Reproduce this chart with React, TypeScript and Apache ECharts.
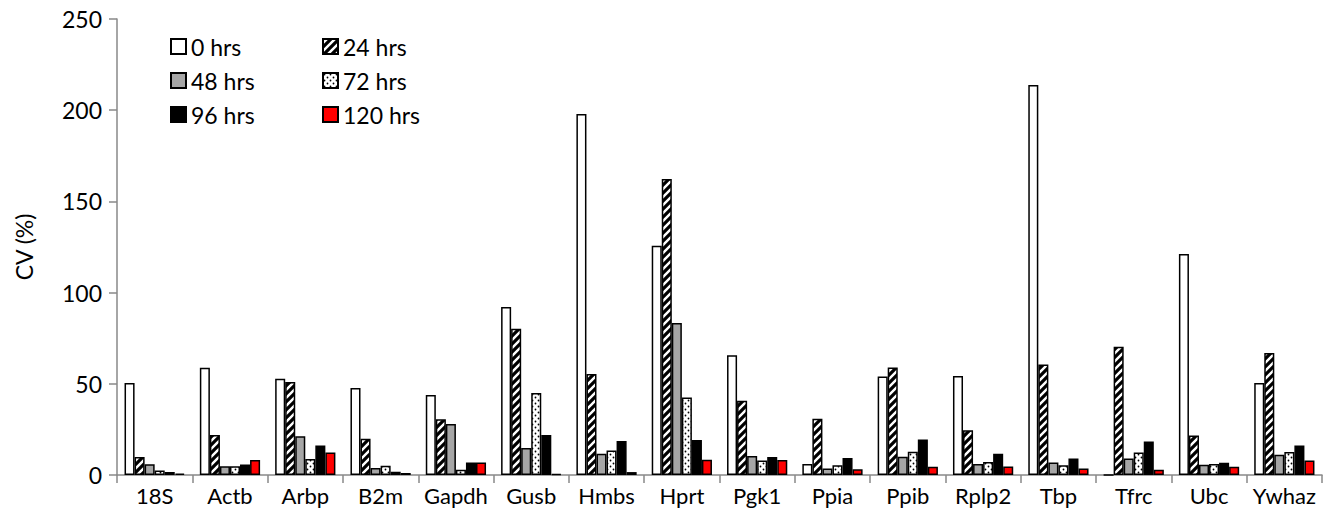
import React, { useEffect, useRef } from "react";
import * as echarts from "echarts";

const categories = ["18S", "Actb", "Arbp", "B2m", "Gapdh", "Gusb", "Hmbs", "Hprt", "Pgk1", "Ppia", "Ppib", "Rplp2", "Tbp", "Tfrc", "Ubc", "Ywhaz"];
const seriesNames = ["0 hrs", "24 hrs", "48 hrs", "72 hrs", "96 hrs", "120 hrs"];
const hrs0 = [50.4, 58.8, 52.8, 47.7, 43.9, 92.1, 197.9, 125.7, 65.6, 6.0, 54.0, 54.3, 213.8, 0, 121.2, 50.4];
const hrs24 = [9.9, 21.9, 51.0, 19.9, 30.5, 80.2, 55.4, 162.3, 40.7, 30.9, 59.0, 24.5, 60.6, 70.3, 21.7, 66.9];
const hrs48 = [5.9, 4.8, 21.2, 3.8, 28.0, 14.8, 11.7, 83.3, 10.4, 3.6, 10.0, 6.0, 6.9, 9.1, 5.6, 11.1];
const hrs72 = [2.4, 4.8, 8.8, 5.1, 2.9, 45.0, 13.5, 42.5, 8.0, 5.3, 12.8, 7.1, 5.3, 12.4, 6.0, 12.6];
const hrs96 = [1.7, 5.8, 16.2, 1.8, 6.9, 21.9, 18.6, 19.2, 9.9, 9.3, 19.4, 11.7, 9.1, 18.3, 6.7, 16.2];
const hrs120 = [0.7, 8.2, 12.4, 1.1, 6.9, 0.5, 1.6, 8.4, 8.2, 3.1, 4.5, 4.7, 3.6, 2.9, 4.5, 8.0];
const yTicks = { min: 0, max: 250, interval: 50 };

function stripeCanvas() {
  const c = document.createElement("canvas");
  c.width = 8;
  c.height = 8;
  const ctx = c.getContext("2d")!;
  ctx.fillStyle = "#fff";
  ctx.fillRect(0, 0, 8, 8);
  ctx.strokeStyle = "#000";
  ctx.lineWidth = 3.2;
  ctx.beginPath();
  for (let k = -8; k <= 16; k += 8) {
    ctx.moveTo(k - 2, 10);
    ctx.lineTo(k + 10, -2);
  }
  ctx.stroke();
  return c;
}

function dotCanvas() {
  const c = document.createElement("canvas");
  c.width = 6;
  c.height = 6;
  const ctx = c.getContext("2d")!;
  ctx.fillStyle = "#fff";
  ctx.fillRect(0, 0, 6, 6);
  ctx.fillStyle = "#000";
  ctx.beginPath();
  ctx.arc(1.5, 1.5, 0.9, 0, Math.PI * 2);
  ctx.arc(4.5, 4.5, 0.9, 0, Math.PI * 2);
  ctx.fill();
  return c;
}

export default function App() {
  const ref = useRef<HTMLDivElement>(null);
  useEffect(() => {
    document.body.style.margin = "0";
    const chart = echarts.init(ref.current!, undefined, { renderer: "svg" });
    const font = "Lato, 'Open Sans', sans-serif";
    const fills: any[] = [
      "#ffffff",
      { image: stripeCanvas(), repeat: "repeat" },
      "#a6a6a6",
      { image: dotCanvas(), repeat: "repeat" },
      "#000000",
      "#ff0000",
    ];
    const values = [hrs0, hrs24, hrs48, hrs72, hrs96, hrs120];
    const legendBase = {
      orient: "vertical",
      top: 30,
      itemWidth: 15,
      itemHeight: 15,
      itemGap: 11,
      textStyle: { fontSize: 23, color: "#000", fontFamily: font },
      icon: "rect",
    };
    chart.setOption({
      animation: false,
      textStyle: { fontFamily: font },
      grid: { left: 117, right: 2, top: 19, bottom: 48 },
      legend: [
        { ...legendBase, data: [seriesNames[0], seriesNames[2], seriesNames[4]], left: 165 },
        { ...legendBase, data: [seriesNames[1], seriesNames[3], seriesNames[5]], left: 317 },
      ],
      xAxis: {
        type: "category",
        data: categories,
        axisLine: { lineStyle: { color: "#888", width: 1.5 } },
        axisTick: { show: true, length: 8, lineStyle: { color: "#888", width: 1.5 } },
        axisLabel: { fontSize: 22, color: "#000", margin: 9, fontFamily: font, interval: 0 },
      },
      yAxis: {
        type: "value",
        min: yTicks.min,
        max: yTicks.max,
        interval: yTicks.interval,
        name: "CV (%)",
        nameLocation: "middle",
        nameGap: 82,
        nameTextStyle: { fontSize: 23, color: "#000", fontFamily: font },
        axisLine: { show: true, lineStyle: { color: "#888", width: 1.5 } },
        axisTick: { show: true, length: 8, lineStyle: { color: "#888", width: 1.5 } },
        axisLabel: { fontSize: 23, color: "#000", margin: 15, fontFamily: font },
        splitLine: { show: false },
      },
      series: seriesNames.map((name, i) => ({
        name,
        type: "bar",
        data: values[i],
        barGap: "0%",
        barCategoryGap: "20%",
        itemStyle: { color: fills[i], borderColor: "#000", borderWidth: 1.5 },
      })),
    });
    return () => chart.dispose();
  }, []);
  return <div ref={ref} style={{ width: 1324, height: 523 }} />;
}
